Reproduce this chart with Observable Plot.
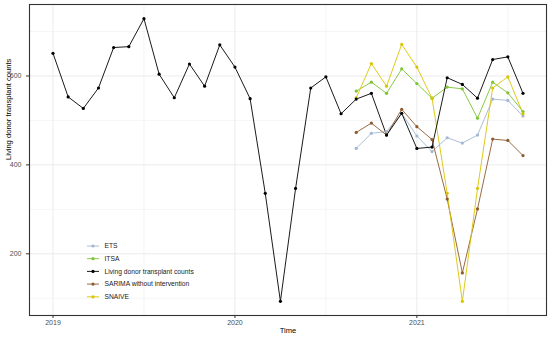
<!DOCTYPE html>
<html>
<head>
<meta charset="utf-8">
<script src="https://cdn.jsdelivr.net/npm/d3@7"></script>
<script src="https://cdn.jsdelivr.net/npm/@observablehq/plot@0.6"></script>
<style>
  html, body { margin: 0; padding: 0; background: #fff; }
  #chart { width: 550px; height: 338px; position: relative; }
</style>
</head>
<body>
<div id="chart"></div>
<script>
// ---- data ----
const observedStart = [2019, 1];   // Jan 2019
const observed = [651, 553, 527, 573, 664, 666, 729, 604, 551, 627, 577, 670,
                  620, 549, 336, 93, 347, 573, 598, 515, 548, 561, 467, 516,
                  437, 440, 596, 581, 550, 637, 643, 561];
const forecastStart = [2020, 9];   // Sep 2020
const ets    = [437, 471, 475, 516, 465, 430, 461, 449, 467, 548, 545, 510];
const itsa   = [566, 586, 561, 616, 583, 550, 575, 571, 505, 586, 562, 520];
const sarima = [473, 494, 467, 525, 486, 457, 323, 157, 301, 458, 455, 421];
const snaive = [551, 628, 577, 671, 620, 550, 336, 93, 347, 573, 598, 515];

const seriesNames = ["ETS", "ITSA", "Living donor transplant counts", "SARIMA without intervention", "SNAIVE"];
const seriesColors = ["#A3B7D3", "#7CC433", "#000000", "#8E5A2C", "#D9C400"];
const xTicks = [2019, 2020, 2021];
const xMinor = [2019.5, 2020.5, 2021.5];
const yTicks = [200, 400, 600];
const yMinor = [100, 300, 500, 700];

// ---- build table ----
function toRows(name, start, values) {
  return values.map((v, i) => ({
    series: name,
    t: start[0] + (start[1] - 1 + i) / 12,
    value: v
  }));
}
const rows = [
  ...toRows(seriesNames[0], forecastStart, ets),
  ...toRows(seriesNames[1], forecastStart, itsa),
  ...toRows(seriesNames[3], forecastStart, sarima),
  ...toRows(seriesNames[4], forecastStart, snaive),
  ...toRows(seriesNames[2], observedStart, observed)
];

// ggplot-like 5% expansion
const tExt = d3.extent(rows, d => d.t);
const vExt = d3.extent(rows, d => d.value);
const tPad = (tExt[1] - tExt[0]) * 0.05;
const vPad = (vExt[1] - vExt[0]) * 0.05;

const colorScale = {domain: seriesNames, range: seriesColors};

const plot = Plot.plot({
  width: 550,
  height: 338,
  marginLeft: 29,
  marginRight: 4,
  marginTop: 4,
  marginBottom: 23,
  style: {fontFamily: "'Liberation Sans', Arial, sans-serif", background: "#fff"},
  x: {domain: [tExt[0] - tPad, tExt[1] + tPad]},
  y: {domain: [vExt[0] - vPad, vExt[1] + vPad]},
  color: colorScale,
  marks: [
    Plot.gridX(xMinor, {stroke: "#EBEBEB", strokeOpacity: 1, strokeWidth: 0.5}),
    Plot.gridY(yMinor, {stroke: "#EBEBEB", strokeOpacity: 1, strokeWidth: 0.5}),
    Plot.gridX(xTicks, {stroke: "#EBEBEB", strokeOpacity: 1, strokeWidth: 1}),
    Plot.gridY(yTicks, {stroke: "#EBEBEB", strokeOpacity: 1, strokeWidth: 1}),
    Plot.line(rows, {x: "t", y: "value", z: "series", stroke: "series", strokeWidth: 0.9}),
    Plot.dot(rows, {x: "t", y: "value", fill: "series", r: 1.6}),
    Plot.axisX(xTicks, {tickSize: 3, tickPadding: 2, tickFormat: d => String(d), fontSize: 7, stroke: "#333333", fill: "#4D4D4D", label: null}),
    Plot.axisY(yTicks, {tickSize: 3, tickPadding: 5, fontSize: 7, stroke: "#333333", fill: "#4D4D4D", label: null}),
    Plot.frame({stroke: "#333333", strokeWidth: 1.1}),
    Plot.text(["Time"], {frameAnchor: "bottom", dy: 17, fontSize: 7.6, fill: "#000"}),
    Plot.text(["Living donor transplant counts"], {frameAnchor: "left", dx: -21, rotate: -90, fontSize: 7.6, fill: "#000"})
  ]
});

document.getElementById("chart").appendChild(plot);

// ---- legend (inside panel, bottom-left) ----
const svg = d3.select(plot);
const leg = svg.append("g")
  .attr("font-family", "'Liberation Sans', Arial, sans-serif")
  .attr("font-size", 6.7)
  .attr("text-anchor", "start");
seriesNames.forEach((name, i) => {
  const y = 246 + i * 12.7;
  const c = seriesColors[i];
  leg.append("line").attr("x1", 87).attr("x2", 99).attr("y1", y).attr("y2", y)
    .attr("stroke", c).attr("stroke-width", 0.9);
  leg.append("circle").attr("cx", 93).attr("cy", y).attr("r", 1.6).attr("fill", c);
  leg.append("text").attr("x", 104.5).attr("y", y).attr("dy", "0.35em")
    .attr("text-anchor", "start")
    .attr("fill", "#1A1A1A").text(name);
});
</script>
</body>
</html>
